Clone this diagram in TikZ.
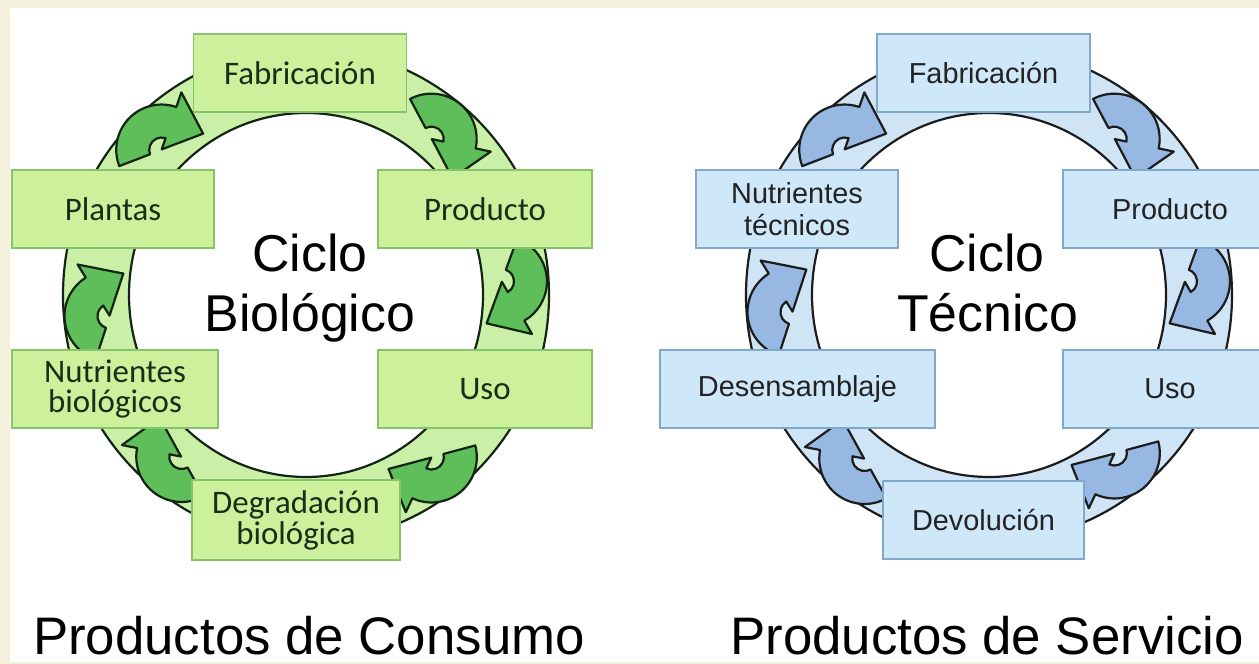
\documentclass[tikz,border=0pt]{standalone}
\usepackage{fontspec}
\setmainfont{Liberation Sans}
\newfontfamily\carl{Carlito}
\usetikzlibrary{calc}
\definecolor{creambg}{HTML}{F3F0DC}
\definecolor{gbox}{HTML}{CCF09C}
\definecolor{gring}{HTML}{C9F0A6}
\definecolor{gborder}{HTML}{86C46A}
\definecolor{garrow}{HTML}{5DBE5A}
\definecolor{gtext}{HTML}{172E17}
\definecolor{gline}{HTML}{142414}
\definecolor{bfill}{HTML}{CFE8F9}
\definecolor{bring}{HTML}{CFE5F6}
\definecolor{bborder}{HTML}{7FA8CC}
\definecolor{barrow}{HTML}{98B8E4}
\definecolor{btext}{HTML}{222222}
\definecolor{bline}{HTML}{1C1C1C}
\begin{document}
\begin{tikzpicture}[x=1bp,y=1bp,
  greenbox/.style={draw=gborder, fill=gbox, line width=1.3bp, minimum height=78bp,
    inner sep=0pt, font=\carl\fontsize{33}{31}\selectfont, text=gtext, align=center},
  bluebox/.style={draw=bborder, fill=bfill, line width=1.3bp, minimum height=78bp,
    inner sep=0pt, font=\fontsize{29}{32}\selectfont, text=btext, align=center},
  bigtext/.style={font=\fontsize{52}{62}\selectfont, anchor=base, text=black},
  titletext/.style={font=\fontsize{53}{53}\selectfont, anchor=base, text=black},
  garrowsty/.style={fill=garrow, draw=gline, line width=2.2bp, line join=round},
  barrowsty/.style={fill=barrow, draw=bline, line width=2.2bp, line join=round},
  curvarrow/.pic={
    \path[pic actions, scale=1.03, shift={(1.9,-19.2)}]
      (205:44) arc[start angle=205, end angle=75, radius=44]
      -- (75:59) -- ($(75:28)+(-15:33)$) -- (75:0.5) -- (75:12)
      arc[start angle=75, end angle=205, radius=12] -- cycle;
  }
]
\useasboundingbox (0,0) rectangle (1259,664);
\clip (0,0) rectangle (1259,664);
\fill[white] (0,0) rectangle (1259,664);

\coordinate (lc) at (306,369);
\coordinate (rc) at (989,369);

% ---- left ring
\fill[gring, even odd rule] (lc) ellipse[x radius=243, y radius=247] (lc) ellipse[x radius=177, y radius=182];
\draw[gline, line width=2.2bp] (lc) ellipse[x radius=243, y radius=247];
\draw[gline, line width=2.2bp] (lc) ellipse[x radius=177, y radius=182];

% ---- right ring
\fill[bring, even odd rule] (rc) ellipse[x radius=243, y radius=247] (rc) ellipse[x radius=177, y radius=182];
\draw[bline, line width=2.2bp] (rc) ellipse[x radius=243, y radius=247];
\draw[bline, line width=2.2bp] (rc) ellipse[x radius=177, y radius=182];

% ---- left arrows
\pic[garrowsty, rotate=-87]  at ($(lc)+(145,159)$)  {curvarrow};
\pic[garrowsty, rotate=-135] at ($(lc)+(211,1)$)    {curvarrow};
\pic[garrowsty, rotate=-190] at ($(lc)+(124,-182)$) {curvarrow};
\pic[garrowsty, rotate=-266] at ($(lc)+(-144,-165)$) {curvarrow};
\pic[garrowsty, rotate=47]   at ($(lc)+(-212,-9)$)  {curvarrow};
\pic[garrowsty, rotate=-4]   at ($(lc)+(-145,165)$) {curvarrow};

% ---- right arrows
\pic[barrowsty, rotate=-87]  at ($(rc)+(145,159)$)  {curvarrow};
\pic[barrowsty, rotate=-135] at ($(rc)+(211,1)$)    {curvarrow};
\pic[barrowsty, rotate=-190] at ($(rc)+(124,-178)$) {curvarrow};
\pic[barrowsty, rotate=-266] at ($(rc)+(-144,-167)$) {curvarrow};
\pic[barrowsty, rotate=47]   at ($(rc)+(-212,-5)$)  {curvarrow};
\pic[barrowsty, rotate=-4]   at ($(rc)+(-145,165)$) {curvarrow};

% ---- left boxes
\node[greenbox, minimum width=213bp] (lfab)  at (300,591) {Fabricación};
\node[greenbox, minimum width=202bp] (lplan) at (113,455) {Plantas};
\node[greenbox, minimum width=214bp] (lprod) at (485,455) {Producto};
\node[greenbox, minimum width=206bp] (lnut)  at (115,275) {Nutrientes\\biológicos};
\node[greenbox, minimum width=214bp] (luso)  at (485,275) {Uso};
\node[greenbox, minimum width=208bp, minimum height=80bp] (ldeg) at (296,144) {Degradación\\biológica};

% ---- right boxes
\node[bluebox, minimum width=213bp] (rfab)  at (983.5,591) {Fabricación};
\node[bluebox, minimum width=202bp] (rnut)  at (797,455) {Nutrientes\\técnicos};
\node[bluebox, minimum width=214bp] (rprod) at (1170,455) {Producto};
\node[bluebox, minimum width=275bp] (rdes)  at (797.5,275) {Desensamblaje};
\node[bluebox, minimum width=214bp] (ruso)  at (1170,275) {Uso};
\node[bluebox, minimum width=201bp] (rdev)  at (983.5,144) {Devolución};

% ---- centre texts
\node[bigtext] (lc1) at (310,392) {Ciclo};
\node[bigtext] (lc2) at (310,332) {Biológico};
\node[bigtext] (rc1) at (987,392) {Ciclo};
\node[bigtext] (rc2) at (988,332) {Técnico};

% ---- titles
\node[titletext] (ltit) at (309,9) {Productos de Consumo};
\node[titletext] (rtit) at (987,9) {Productos de Servicio};

% ---- cream frame
\fill[creambg] (0,656) rectangle (1259,664);
\fill[creambg] (0,0) rectangle (10,664);
\fill[creambg] (0,0) rectangle (1259,2);
\end{tikzpicture}
\end{document}
